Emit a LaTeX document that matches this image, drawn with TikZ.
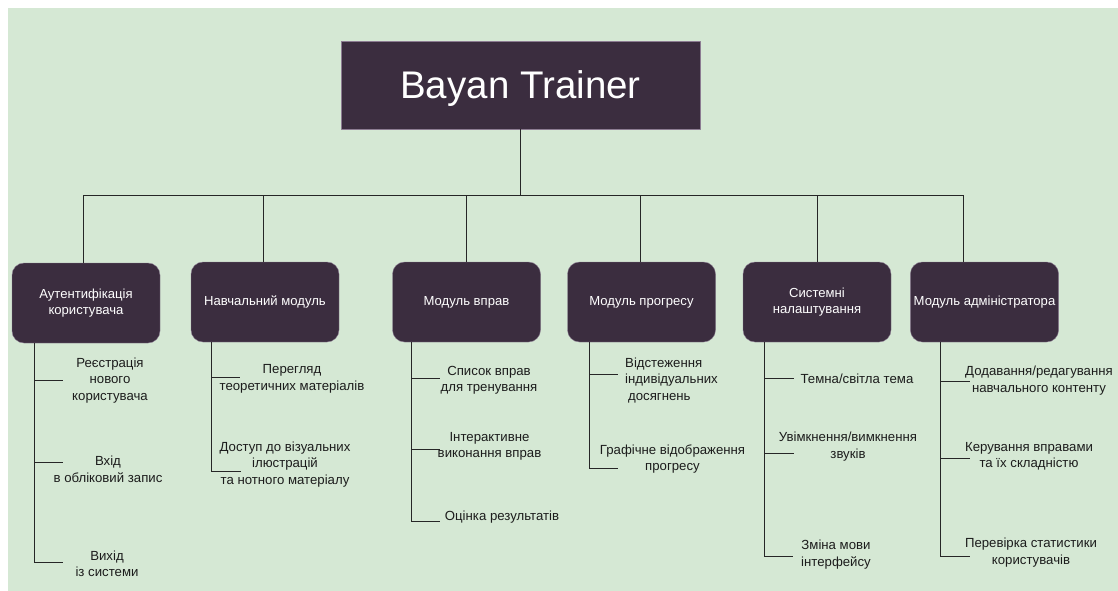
\documentclass[tikz,border=0pt]{standalone}
\usepackage{fontspec}
\setmainfont{Liberation Sans}

\definecolor{tlo}{HTML}{D5E8D4}
\definecolor{blok}{HTML}{3B2D3F}
\definecolor{obvid}{HTML}{8C7C92}
\definecolor{tekst}{HTML}{1C1C1C}

\tikzset{
  modul/.style={draw=obvid, fill=blok, rounded corners=12, minimum width=148,
    minimum height=80, text=white, align=center,
    font=\fontsize{13.1}{16}\selectfont},
  punkt/.style={text=tekst, align=center, inner sep=0,
    font=\fontsize{13.2}{16.5}\selectfont},
  liniya/.style={draw=black!85, line width=0.9}
}

\begin{document}
\begin{tikzpicture}[x=1pt, y=-1pt, line join=round]
  % Тло
  \useasboundingbox (0,0) rectangle (1118,591);
  \fill[white] (0,0) rectangle (1118,591);
  \fill[tlo] (8,8) rectangle (1118,591);

  % Заголовок
  \node[draw=obvid, fill=blok, minimum width=359, minimum height=88, text=white,
    text height=28, text depth=0,
    font=\fontsize{38.5}{46}\selectfont] (root) at (520.5,85) {Bayan Trainer};

  % Модулі
  \node[modul] (m1) at (86,303) {Аутентифікація\\користувача};
  \node[modul] (m2) at (265,302) {Навчальний модуль};
  \node[modul] (m3) at (466.5,302) {Модуль вправ};
  \node[modul] (m4) at (641.5,302) {Модуль прогресу};
  \node[modul] (m5) at (817,302) {Системні\\налаштування};
  \node[modul] (m6) at (984.5,302) {Модуль адміністратора};

  % Шина між заголовком і модулями
  \coordinate (b1) at (83,195);
  \coordinate (b2) at (263,195);
  \coordinate (b3) at (466,195);
  \coordinate (b4) at (640,195);
  \coordinate (b5) at (817,195);
  \coordinate (b6) at (963,195);
  \draw[liniya] (root.south) -- (root.south |- b1);
  \draw[liniya] (b1) -- (b6);
  \draw[liniya] (b1) -- (b1 |- m1.north);
  \draw[liniya] (b2) -- (b2 |- m2.north);
  \draw[liniya] (b3) -- (b3 |- m3.north);
  \draw[liniya] (b4) -- (b4 |- m4.north);
  \draw[liniya] (b5) -- (b5 |- m5.north);
  \draw[liniya] (b6) -- (b6 |- m6.north);

  % Аутентифікація
  \coordinate (k11) at (34,380);
  \coordinate (k12) at (34,462);
  \coordinate (k13) at (34,562);
  \draw[liniya] (m1.south -| k13) -- (k13);
  \draw[liniya] (k11) -- ++(29,0);
  \draw[liniya] (k12) -- ++(29,0);
  \draw[liniya] (k13) -- ++(29,0);
  \node[punkt] (p11) at (110,380.5) {Реєстрація\\нового\\користувача};
  \node[punkt] (p12) at (108,469.5) {Вхід\\в обліковий запис};
  \node[punkt] (p13) at (107,564) {Вихід\\із системи};

  % Навчальний модуль
  \coordinate (k21) at (211,377);
  \coordinate (k22) at (211,471);
  \draw[liniya] (m2.south -| k22) -- (k22);
  \draw[liniya] (k21) -- ++(29,0);
  \draw[liniya] (k22) -- ++(30,0);
  \node[punkt] (p21) at (292,379) {Перегляд\\теоретичних матеріалів};
  \node[punkt] (p22) at (285,464.5) {Доступ до візуальних\\ілюстрацій\\та нотного матеріалу};

  % Модуль вправ
  \coordinate (k31) at (411,378);
  \coordinate (k32) at (411,449);
  \coordinate (k33) at (411,521);
  \draw[liniya] (m3.south -| k33) -- (k33);
  \draw[liniya] (k31) -- ++(29,0);
  \draw[liniya] (k32) -- ++(29,0);
  \draw[liniya] (k33) -- ++(29,0);
  \node[punkt] (p31) at (489,380.5) {Список вправ\\для тренування};
  \node[punkt] (p32) at (489.5,446.5) {Інтерактивне\\виконання вправ};
  \node[punkt] (p33) at (502,517) {Оцінка результатів};

  % Модуль прогресу
  \coordinate (k41) at (589,374);
  \coordinate (k42) at (589,468);
  \draw[liniya] (m4.south -| k42) -- (k42);
  \draw[liniya] (k41) -- ++(29,0);
  \draw[liniya] (k42) -- ++(29,0);
  \node[punkt, align=left, anchor=west] (p41) at (625,380.5)
    {Відстеження\\індивідуальних\\\hspace*{3pt}досягнень};
  \node[punkt] (p42) at (672.5,459) {Графічне відображення\\прогресу};

  % Системні налаштування
  \coordinate (k51) at (764,378);
  \coordinate (k52) at (764,453);
  \coordinate (k53) at (764,556);
  \draw[liniya] (m5.south -| k53) -- (k53);
  \draw[liniya] (k51) -- ++(30,0);
  \draw[liniya] (k52) -- ++(30,0);
  \draw[liniya] (k53) -- ++(29,0);
  \node[punkt] (p51) at (857,379) {Темна/світла тема};
  \node[punkt] (p52) at (848,446.5) {Увімкнення/вимкнення\\звуків};
  \node[punkt] (p53) at (836,554.5) {Зміна мови\\інтерфейсу};

  % Модуль адміністратора
  \coordinate (k61) at (940,381);
  \coordinate (k62) at (940,458);
  \coordinate (k63) at (940,556);
  \draw[liniya] (m6.south -| k63) -- (k63);
  \draw[liniya] (k61) -- ++(30,0);
  \draw[liniya] (k62) -- ++(30,0);
  \draw[liniya] (k63) -- ++(30,0);
  \node[punkt] (p61) at (1039,380.5) {Додавання/редагування\\навчального контенту};
  \node[punkt] (p62) at (1029,456.5) {Керування вправами\\та їх складністю};
  \node[punkt] (p63) at (1031,552.5) {Перевірка статистики\\користувачів};
\end{tikzpicture}
\end{document}
